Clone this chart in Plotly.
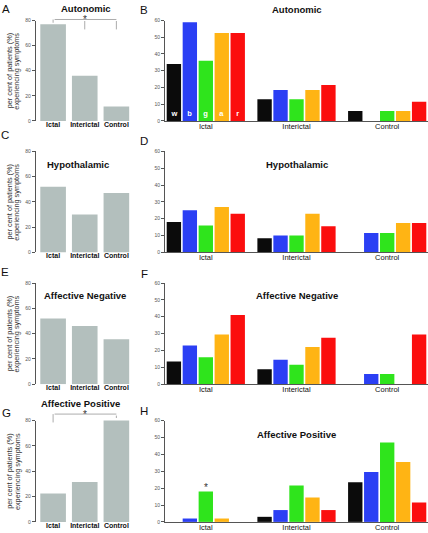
import plotly.graph_objects as go

W, H = 428, 533

# ---------------- data ----------------
groups = ["Ictal", "Interictal", "Control"]
series_names = ["white", "blue", "green", "amber", "red"]
series_letters = ["w", "b", "g", "a", "r"]
series_colors = ["#0b0b0b", "#2b3ff4", "#2fe41c", "#ffb414", "#fb0e0e"]

titles = ["Autonomic", "Hypothalamic", "Affective Negative", "Affective Positive"]

# left panels: all wavelengths combined
autonomic_all = [77, 36, 11.5]
hypothalamic_all = [52, 30, 47]
aff_neg_all = [52, 46, 35.5]
aff_pos_all = [22.5, 31.5, 82]

# right panels: per wavelength (w, b, g, a, r), each over groups
autonomic_w = [34, 13, 6]
autonomic_b = [59, 18.5, 0]
autonomic_g = [36, 13, 6]
autonomic_a = [52.5, 18.5, 6]
autonomic_r = [52.5, 21.5, 11.5]

hypothalamic_w = [18, 8.5, 0]
hypothalamic_b = [25, 10, 11.5]
hypothalamic_g = [16, 10, 11.5]
hypothalamic_a = [27, 23, 17.5]
hypothalamic_r = [23, 15.5, 17.5]

aff_neg_w = [13.5, 8.8, 0]
aff_neg_b = [23, 14.5, 6]
aff_neg_g = [16, 11.5, 6]
aff_neg_a = [29.5, 22, 0]
aff_neg_r = [41, 27.5, 29.5]

aff_pos_w = [0, 3, 23.5]
aff_pos_b = [2, 7, 29.5]
aff_pos_g = [18, 21.5, 47]
aff_pos_a = [2, 14.5, 35.5]
aff_pos_r = [0, 7, 11.5]

left_data = [autonomic_all, hypothalamic_all, aff_neg_all, aff_pos_all]
right_data = [
    [autonomic_w, autonomic_b, autonomic_g, autonomic_a, autonomic_r],
    [hypothalamic_w, hypothalamic_b, hypothalamic_g, hypothalamic_a, hypothalamic_r],
    [aff_neg_w, aff_neg_b, aff_neg_g, aff_neg_a, aff_neg_r],
    [aff_pos_w, aff_pos_b, aff_pos_g, aff_pos_a, aff_pos_r],
]
panel_letters = ["A", "B", "C", "D", "E", "F", "G", "H"]
LEFT_MAX, RIGHT_MAX = 80, 60

# ---------------- layout helpers ----------------
def fx(p):
    return p / W

def fy(p):
    return 1 - p / H

FONT = "Liberation Sans, Arial, Helvetica, sans-serif"
GRAY = "#b3bfbd"
AXC = "#555555"

rows_px = [(17.7, 119.3), (150.0, 252.3), (283.2, 385.5), (422.3, 524.8)]
left_x_px = (35.7, 132.2)
right_x_px = (165.0, 428.0)

fig = go.Figure()
layout = dict(
    width=W, height=H, margin=dict(l=0, r=0, t=0, b=0),
    paper_bgcolor="white", plot_bgcolor="white",
    barmode="group", bargap=0.12, bargroupgap=0.1,
    showlegend=False, font=dict(family=FONT, color="#222"),
)
annotations = []

for r in range(4):
    top, bot = rows_px[r]
    ydom = [fy(bot), fy(top)]
    li = 2 * r + 1
    ri = 2 * r + 2
    lx = "x" if li == 1 else f"x{li}"
    ly = "y" if li == 1 else f"y{li}"
    rx = f"x{ri}"
    ry = f"y{ri}"

    # left panel
    fig.add_trace(go.Bar(
        x=groups, y=left_data[r], xaxis=lx, yaxis=ly, width=0.81,
        marker=dict(color=GRAY, line=dict(width=0)), hoverinfo="x+y",
        cliponaxis=False,
    ))
    layout["xaxis" if li == 1 else f"xaxis{li}"] = dict(
        domain=[fx(left_x_px[0]), fx(left_x_px[1])], anchor=ly,
        range=[-0.55, 2.5], showline=False, ticks="", showgrid=False,
        tickfont=dict(size=7, color="#111", weight="bold"), zeroline=False,
        ticklabelstandoff=-2,
    )
    layout["yaxis" if li == 1 else f"yaxis{li}"] = dict(
        domain=ydom, anchor=lx, range=[0, LEFT_MAX], dtick=20, showgrid=False,
        zeroline=False, showline=True, linecolor=AXC, linewidth=0.7,
        ticks="outside", ticklen=3, tickwidth=0.6, tickcolor=AXC,
        tickfont=dict(size=5, color=AXC),
    )

    # right panel
    for s in range(5):
        txt = None
        if r == 0:
            txt = [series_letters[s], "", ""]
        fig.add_trace(go.Bar(
            x=groups, y=right_data[r][s], xaxis=rx, yaxis=ry,
            name=series_names[s],
            marker=dict(color=series_colors[s], line=dict(width=0)),
            text=txt, textposition="inside" if txt else None,
            insidetextanchor="start", textangle=0,
            textfont=dict(size=7.5, color="white", family=FONT, weight="bold"),
            hoverinfo="x+y+name",
        ))
    layout[f"xaxis{ri}"] = dict(
        domain=[fx(right_x_px[0]), fx(right_x_px[1])], anchor=ry,
        range=[-0.45, 2.45], showline=True, linecolor=AXC, linewidth=0.8,
        ticks="", showgrid=False, zeroline=False,
        tickfont=dict(size=7.5, color="#111"),
        ticklabelstandoff=-2,
    )
    layout[f"yaxis{ri}"] = dict(
        domain=ydom, anchor=rx, range=[0, RIGHT_MAX], dtick=10, showgrid=False,
        zeroline=False, showline=True, linecolor=AXC, linewidth=0.7,
        ticks="outside", ticklen=3, tickwidth=0.6, tickcolor=AXC,
        tickfont=dict(size=5, color=AXC),
    )

    # y axis titles for left panels
    yc = fy((top + bot) / 2)
    annotations.append(dict(
        text="per cent of patients (%)", x=fx(9.6), y=yc, xref="paper", yref="paper",
        textangle=-90, showarrow=False, font=dict(size=7.3, color="#333"),
        xanchor="center", yanchor="middle",
    ))
    annotations.append(dict(
        text="experiencing symptoms", x=fx(16.9), y=yc, xref="paper", yref="paper",
        textangle=-90, showarrow=False, font=dict(size=7.3, color="#333"),
        xanchor="center", yanchor="middle",
    ))

# titles
left_title_pos = [(85.5, 6.0), (78, 163.3), (85, 295.7), (80.3, 405.0)]
right_title_pos = [(296.7, 6.7), (297, 163.3), (296.7, 296), (296.7, 436.7)]
for i in range(4):
    for (px, py) in (left_title_pos[i], right_title_pos[i]):
        annotations.append(dict(
            text=titles[i], x=fx(px), y=fy(py), xref="paper", yref="paper",
            showarrow=False, xanchor="center", yanchor="middle",
            font=dict(size=9.5, color="#111", weight="bold"),
        ))

# panel letters
letter_pos = [(5.5, 6), (144, 7), (5, 134), (144, 140), (5, 272), (144, 274), (6, 415), (144, 412.5)]
for L, (px, py) in zip(panel_letters, letter_pos):
    annotations.append(dict(
        text=L, x=fx(px), y=fy(py), xref="paper", yref="paper",
        showarrow=False, xanchor="center", yanchor="middle",
        font=dict(size=11.5, color="#111"),
    ))

# significance brackets (headless arrows in x-data / y-domain units)
def seg(xa, ya, x0, v0, x1, v1, vmax):
    return dict(
        x=x1, y=v1 / vmax, ax=x0, ay=v0 / vmax,
        xref=xa, yref=ya + " domain", axref=xa, ayref=ya + " domain",
        text="", showarrow=True, arrowhead=0, arrowwidth=0.7, arrowcolor="#888",
        standoff=0, startstandoff=0,
    )

def star(xa, ya, xv, v, vmax, shift):
    return dict(text="*", x=xv, y=v / vmax, xref=xa, yref=ya + " domain",
                showarrow=False, yanchor="bottom", yshift=shift,
                font=dict(size=10, color="#333"))

# Panel A: Ictal vs Interictal / Control
a_top = 80.8
annotations += [
    seg("x", "y", 0, autonomic_all[0], 0, a_top, LEFT_MAX),
    seg("x", "y", 0, a_top, 2, a_top, LEFT_MAX),
    seg("x", "y", 1, a_top, 1, 72.9, LEFT_MAX),
    seg("x", "y", 2, a_top, 2, 72.9, LEFT_MAX),
    star("x", "y", 1, a_top, LEFT_MAX, -7.5),
]

# Panel G: Ictal vs Control
g_top = 85.1
annotations += [
    seg("x7", "y7", 0, 77.3, 0, g_top, LEFT_MAX),
    seg("x7", "y7", 0, g_top, 2, g_top, LEFT_MAX),
    seg("x7", "y7", 2, g_top, 2, aff_pos_all[2], LEFT_MAX),
    star("x7", "y7", 1, g_top, LEFT_MAX, -7.5),
]

# Panel H: asterisk above green ictal bar
annotations.append(star("x8", "y8", "Ictal", aff_pos_g[0], RIGHT_MAX, -4))

layout["annotations"] = annotations
fig.update_layout(**layout)
fig.write_html(
    "out.html",
    config={"displayModeBar": False},
    post_script="document.body.style.margin='0';document.body.style.overflow='hidden';",
)
